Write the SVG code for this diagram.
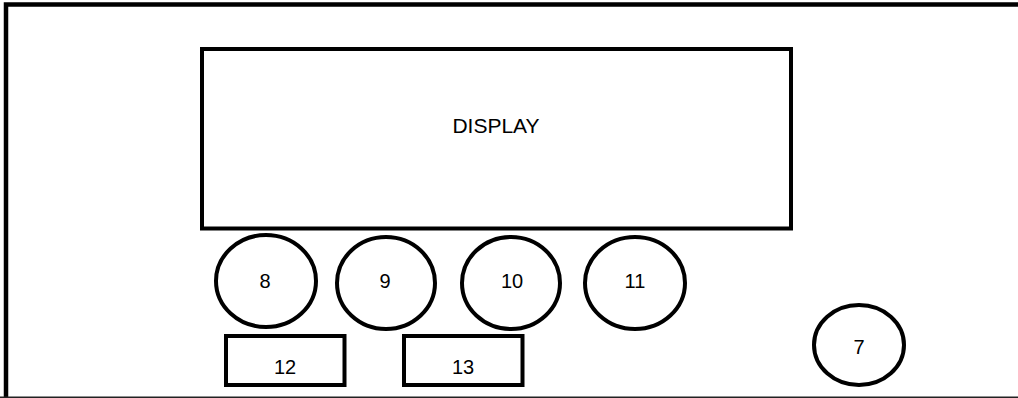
<svg xmlns="http://www.w3.org/2000/svg" width="1018" height="398" viewBox="0 0 1018 398">
<style>
.s{fill:#fff;stroke:#000;stroke-width:4}
.t{font-family:"Liberation Sans",Arial,sans-serif;font-size:20px;fill:#000;text-anchor:middle}
.d{font-size:21px}
</style>
<rect width="1018" height="398" fill="#fff"/>
<g id="frame">
<path d="M6,398 V4.5 H1018" fill="none" stroke="#000" stroke-width="4.5"/>
<line x1="0" y1="397.3" x2="1018" y2="397.3" stroke="#222" stroke-width="1.5"/>
</g>
<g id="display">
<rect class="s" x="202" y="49" width="589" height="179.5"/>
<text class="t d" x="496" y="133">DISPLAY</text>
</g>
<g id="n8"><ellipse class="s" cx="266" cy="281" rx="50" ry="46"/><text class="t" x="265" y="287.5">8</text></g>
<g id="n9"><ellipse class="s" cx="386" cy="283" rx="49" ry="46"/><text class="t" x="385" y="288">9</text></g>
<g id="n10"><ellipse class="s" cx="511" cy="283" rx="49" ry="46"/><text class="t" x="512" y="288">10</text></g>
<g id="n11"><ellipse class="s" cx="635" cy="283" rx="50" ry="46"/><text class="t" x="635" y="288">11</text></g>
<g id="n7"><ellipse class="s" cx="859" cy="345" rx="45" ry="40"/><text class="t" x="859" y="354">7</text></g>
<g id="n12"><rect class="s" x="226" y="336" width="118.5" height="49"/><text class="t" x="285" y="374">12</text></g>
<g id="n13"><rect class="s" x="404" y="336" width="118.5" height="49"/><text class="t" x="463" y="374">13</text></g>
<g id="connectors"/>
</svg>
